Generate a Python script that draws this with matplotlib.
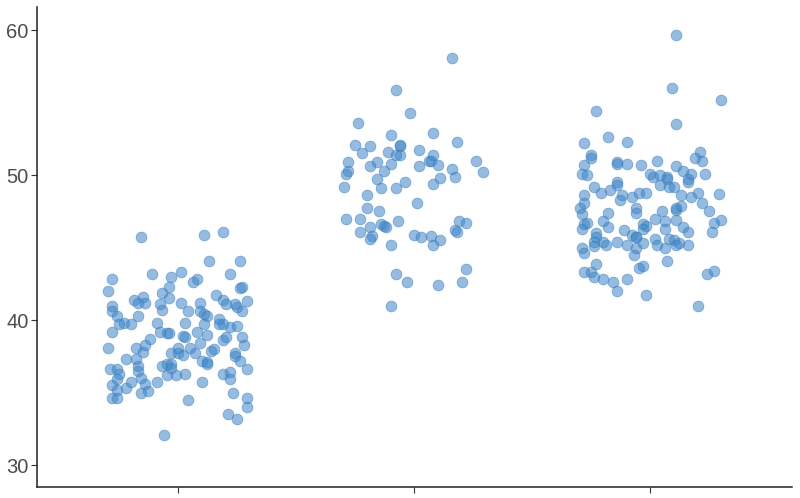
import matplotlib
matplotlib.use('Agg')
import matplotlib.pyplot as plt
import numpy as np

plt.rcParams['font.family'] = ['Liberation Sans', 'DejaVu Sans']

# group 1: jitter offset from category centre, value
g1_jit = [-0.16, 0.11, 0.19, 0.13, 0.26, -0.11, -0.03, 0.01, 0.08, 0.06,
          0.22, 0.27, 0.26, -0.28, -0.30, -0.04, -0.07, -0.04, -0.15, -0.19,
          -0.17, -0.14, -0.28, -0.28, -0.26, -0.08, -0.07, 0.01, 0.04, 0.09,
          0.09, 0.11, 0.12, 0.16, 0.19, 0.20, 0.24, 0.25, 0.27, 0.29,
          0.17, -0.17, -0.23, -0.20, -0.25, -0.28, -0.09, 0.03, 0.11, 0.17,
          0.19, 0.22, 0.25, -0.30, -0.18, -0.15, -0.14, -0.12, -0.22, -0.18,
          -0.17, -0.17, -0.29, -0.26, -0.25, -0.26, -0.28, -0.26, -0.28, -0.26,
          -0.22, -0.20, -0.16, -0.14, -0.16, -0.13, -0.09, -0.07, -0.05, -0.03,
          -0.03, -0.05, -0.01, 0.03, -0.03, 0.00, 0.02, 0.00, 0.05, 0.07,
          0.10, 0.12, 0.12, 0.14, 0.15, 0.10, 0.09, 0.02, 0.03, -0.05,
          -0.04, -0.08, 0.08, 0.12, 0.19, 0.20, 0.27, 0.28, 0.24, 0.24,
          0.26, 0.29, 0.19, 0.22, 0.22, 0.23, 0.29, 0.29, 0.21, 0.25,
          0.04, -0.06]
g1_val = [45.7, 45.9, 46.1, 44.1, 44.1, 43.2, 43.0, 43.3, 42.8, 42.6,
          43.2, 42.3, 42.2, 42.8, 42.0, 42.3, 41.9, 41.5, 41.6, 41.4,
          41.2, 41.2, 41.0, 40.6, 40.3, 41.1, 40.7, 41.2, 40.6, 41.2,
          40.6, 40.4, 40.3, 41.7, 41.4, 41.1, 41.1, 40.9, 40.6, 41.3,
          40.1, 40.3, 39.8, 39.7, 39.7, 39.2, 39.8, 39.8, 39.7, 39.7,
          39.7, 39.5, 39.6, 38.1, 38.1, 37.8, 38.3, 38.7, 37.3, 37.3,
          36.8, 36.5, 36.6, 36.6, 36.3, 35.9, 35.5, 35.2, 34.6, 34.6,
          35.3, 35.7, 36.0, 35.6, 35.0, 35.1, 35.7, 36.8, 37.0, 37.0,
          36.7, 36.2, 36.2, 36.3, 37.7, 37.7, 37.6, 38.1, 38.1, 37.7,
          37.2, 37.1, 37.0, 37.9, 38.0, 35.7, 38.4, 38.9, 38.8, 39.1,
          39.1, 39.2, 39.2, 39.0, 38.6, 38.8, 38.8, 38.3, 37.7, 37.5,
          37.2, 36.6, 36.3, 36.4, 35.9, 35.0, 34.6, 34.0, 33.5, 33.2,
          34.5, 32.1]

# group 2
g2_jit = [0.16, -0.08, -0.02, -0.24, -0.10, 0.08, 0.18, -0.25, -0.19, -0.06,
          -0.06, -0.22, -0.11, -0.08, -0.06, 0.02, 0.08, 0.06, 0.07, 0.10,
          0.26, -0.28, -0.16, -0.19, -0.10, 0.02, 0.16, 0.29, -0.28, -0.29,
          -0.13, -0.30, -0.16, -0.14, -0.08, -0.04, 0.08, 0.11, 0.17, -0.20,
          0.01, -0.20, -0.15, -0.29, -0.23, -0.19, -0.14, -0.13, -0.12, -0.07,
          -0.23, -0.18, -0.19, 0.00, 0.03, 0.07, 0.08, 0.11, -0.10, 0.17,
          0.18, 0.19, 0.22, -0.08, -0.03, 0.10, 0.20, 0.22, -0.10]
g2_val = [58.1, 55.9, 54.3, 53.6, 52.8, 52.9, 52.3, 52.1, 52.0, 52.1,
          52.0, 51.5, 51.6, 51.4, 51.4, 51.7, 51.4, 51.0, 51.0, 50.7,
          51.0, 50.9, 50.9, 50.6, 50.8, 50.6, 50.4, 50.2, 50.3, 50.1,
          50.3, 49.2, 49.7, 49.1, 49.1, 49.5, 49.4, 49.8, 49.9, 48.6,
          48.1, 47.7, 47.5, 47.0, 47.0, 46.4, 46.6, 46.5, 46.4, 46.8,
          46.1, 45.8, 45.6, 45.9, 45.7, 45.8, 45.2, 45.5, 45.2, 46.2,
          46.1, 46.8, 46.7, 43.2, 42.6, 42.4, 42.6, 43.5, 41.0]

# group 3
g3_jit = [0.11, 0.09, 0.30, -0.23, 0.11, -0.18, -0.10, -0.28, -0.25, -0.25,
          0.21, 0.19, 0.22, 0.03, -0.14, -0.10, -0.04, 0.11, -0.28, -0.14,
          -0.29, -0.27, 0.14, 0.00, 0.01, 0.04, 0.07, 0.07, 0.17, 0.16,
          0.16, 0.23, 0.04, 0.08, 0.10, -0.14, -0.14, -0.24, -0.21, -0.17,
          -0.12, -0.13, -0.08, -0.05, -0.02, -0.28, -0.28, -0.30, -0.29, 0.13,
          0.17, 0.20, 0.22, 0.29, 0.11, 0.11, 0.13, -0.06, -0.06, 0.05,
          0.25, -0.18, -0.20, -0.18, -0.28, -0.27, -0.29, -0.03, -0.02, -0.03,
          0.02, 0.06, 0.06, 0.11, 0.14, 0.16, 0.27, 0.30, 0.26, -0.11,
          -0.08, -0.06, -0.06, -0.23, -0.23, -0.24, -0.20, -0.19, -0.24, -0.14,
          -0.10, -0.06, -0.03, 0.02, 0.03, 0.06, 0.08, 0.10, 0.12, 0.11,
          0.16, -0.29, -0.28, -0.07, 0.07, -0.23, -0.28, -0.25, -0.24, -0.20,
          -0.16, -0.14, -0.10, -0.05, -0.03, -0.02, 0.24, 0.27, 0.20]
g3_val = [59.7, 56.0, 55.2, 54.4, 53.5, 52.6, 52.3, 52.2, 51.4, 51.2,
          51.6, 51.2, 51.0, 51.0, 50.9, 50.8, 50.7, 50.6, 50.7, 50.8,
          50.1, 50.0, 50.3, 50.1, 49.9, 50.0, 49.9, 49.7, 50.1, 49.7,
          49.5, 50.1, 49.3, 49.2, 49.2, 49.5, 49.3, 49.2, 48.8, 49.0,
          48.6, 48.3, 48.5, 48.8, 48.8, 48.6, 48.1, 47.7, 47.3, 48.6,
          48.5, 48.8, 48.1, 48.7, 47.6, 47.7, 47.9, 47.7, 47.4, 47.5,
          47.5, 47.4, 46.8, 46.4, 46.6, 46.7, 46.3, 46.6, 46.5, 46.3,
          47.0, 46.8, 46.3, 46.9, 46.4, 46.1, 46.7, 46.9, 46.1, 46.2,
          45.9, 45.7, 45.7, 46.0, 45.7, 45.4, 45.4, 45.2, 45.1, 45.4,
          45.2, 45.0, 45.3, 45.6, 45.2, 45.0, 45.6, 45.5, 45.3, 45.2,
          45.2, 45.0, 44.6, 44.5, 44.1, 43.9, 43.3, 43.3, 43.0, 42.8,
          42.6, 42.0, 42.8, 43.6, 43.7, 41.7, 43.2, 43.4, 41.0]

groups = [(1, g1_jit, g1_val), (2, g2_jit, g2_val), (3, g3_jit, g3_val)]
y_ticks = [30, 40, 50, 60]

fig = plt.figure(figsize=(8, 4.98), dpi=100)
ax = fig.add_axes([0.046, 0.022, 0.944, 0.964])

for pos, jit, val in groups:
    x = pos + np.asarray(jit)
    ax.scatter(x, val, s=60, color='#3f86c8', alpha=0.55,
               edgecolors='#3a7dbd', linewidths=0.6, zorder=3)

ax.set_xlim(0.4, 3.6)
ax.set_ylim(28.48, 61.6)
ax.set_xticks([1, 2, 3])
ax.set_xticklabels([])
ax.set_yticks(y_ticks)
ax.tick_params(axis='y', labelsize=14.5, labelcolor='#4d4d4d', color='#333333',
               length=4, width=0.8, pad=2)
ax.tick_params(axis='x', color='#333333', length=4, width=0.8)

for side in ['top', 'right']:
    ax.spines[side].set_visible(False)
for side in ['left', 'bottom']:
    ax.spines[side].set_color('#222222')
    ax.spines[side].set_linewidth(1.1)

fig.savefig('out.png', dpi=100)
